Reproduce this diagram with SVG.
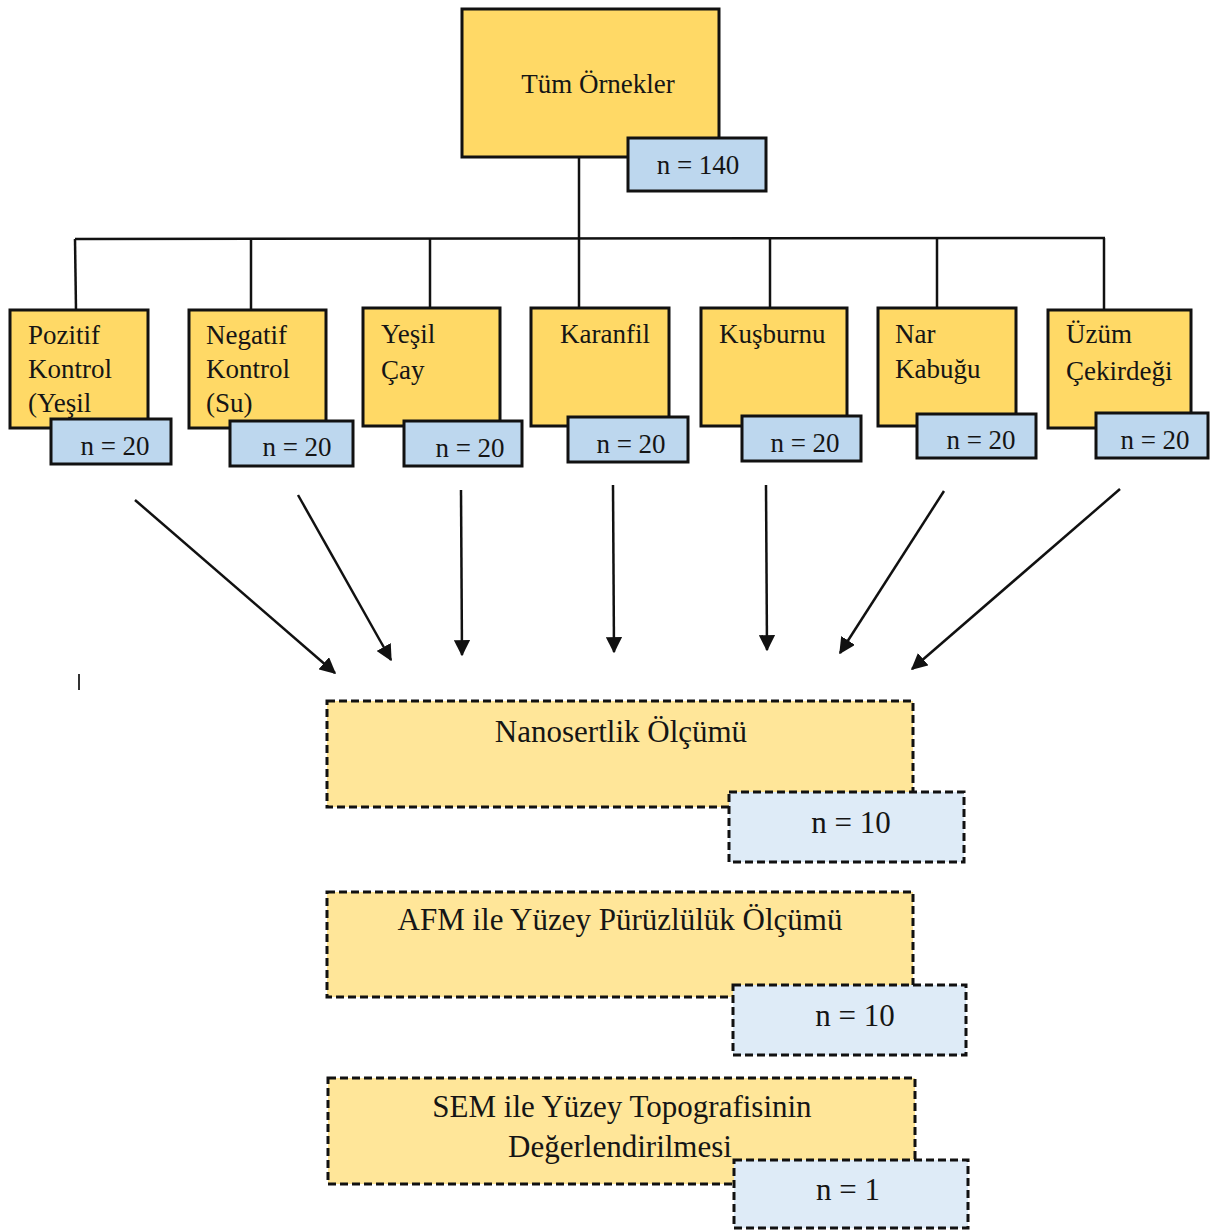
<svg xmlns="http://www.w3.org/2000/svg" width="1211" height="1230" viewBox="0 0 1211 1230">
  <style>
    text { font-family: "Liberation Serif", "DejaVu Serif", serif; fill: #151515; }
    .t26 { font-size: 27px; }
    .t30 { font-size: 31px; }
    .mid { text-anchor: middle; }
    .gold { fill: #FFD966; stroke: #111; stroke-width: 3; }
    .blue { fill: #BDD7EE; stroke: #111; stroke-width: 3; }
    .gold-d { fill: #FFE699; stroke: #111; stroke-width: 3; stroke-dasharray: 8 4; }
    .blue-d { fill: #DEEBF7; stroke: #111; stroke-width: 3; stroke-dasharray: 8 4; }
    .wire { fill: none; stroke: #111; stroke-width: 2.5; }
    .arrow { fill: none; stroke: #111; stroke-width: 2.5; marker-end: url(#head); }
  </style>
  <defs>
    <marker id="head" viewBox="0 0 12 12" refX="11" refY="6" markerWidth="6.5" markerHeight="6.5" orient="auto" markerUnits="strokeWidth">
      <path d="M0,0 L12,6 L0,12 Z" fill="#111"/>
    </marker>
  </defs>

  <rect width="1211" height="1230" fill="#fff"/>

  <!-- tree connectors and arrows -->
  <g id="connectors">
    <line class="wire" x1="579" y1="157" x2="579" y2="239"/>
    <line class="wire" x1="75" y1="239" x2="1105" y2="238"/>
    <line class="wire" x1="75" y1="239" x2="76" y2="310"/>
    <line class="wire" x1="251" y1="239" x2="251" y2="310"/>
    <line class="wire" x1="430" y1="239" x2="430" y2="308"/>
    <line class="wire" x1="579" y1="239" x2="579" y2="308"/>
    <line class="wire" x1="770" y1="238" x2="770" y2="308"/>
    <line class="wire" x1="937" y1="238" x2="937" y2="308"/>
    <line class="wire" x1="1104" y1="238" x2="1104" y2="310"/>

    <line class="arrow" x1="135" y1="500" x2="335" y2="673"/>
    <line class="arrow" x1="298" y1="495" x2="391" y2="660"/>
    <line class="arrow" x1="461" y1="490" x2="462" y2="655"/>
    <line class="arrow" x1="613" y1="485" x2="614" y2="652"/>
    <line class="arrow" x1="766" y1="485" x2="767" y2="650"/>
    <line class="arrow" x1="944" y1="491" x2="840" y2="653"/>
    <line class="arrow" x1="1120" y1="489" x2="912" y2="669"/>
  </g>

  <!-- text cursor mark -->
  <line x1="79" y1="674" x2="79" y2="690" stroke="#333" stroke-width="2"/>

  <g id="tum-ornekler">
    <rect class="gold" x="462" y="9" width="257" height="148"/>
    <text class="t26 mid" x="598" y="93">Tüm Örnekler</text>
    <rect class="blue" x="628" y="138" width="138" height="53"/>
    <text class="t26 mid" x="698" y="174">n = 140</text>
  </g>

  <g id="pozitif-kontrol">
    <rect class="gold" x="10" y="310" width="138" height="118"/>
    <text class="t26" x="28" y="344">Pozitif</text>
    <text class="t26" x="28" y="378">Kontrol</text>
    <text class="t26" x="28" y="412">(Yeşil</text>
    <rect class="blue" x="51" y="419" width="120" height="45"/>
    <text class="t26 mid" x="115" y="455">n = 20</text>
  </g>

  <g id="negatif-kontrol">
    <rect class="gold" x="189" y="310" width="137" height="118"/>
    <text class="t26" x="206" y="344">Negatif</text>
    <text class="t26" x="206" y="378">Kontrol</text>
    <text class="t26" x="206" y="412">(Su)</text>
    <rect class="blue" x="230" y="421" width="123" height="45"/>
    <text class="t26 mid" x="297" y="456">n = 20</text>
  </g>

  <g id="yesil-cay">
    <rect class="gold" x="363" y="308" width="137" height="118"/>
    <text class="t26" x="381" y="343">Yeşil</text>
    <text class="t26" x="381" y="379">Çay</text>
    <rect class="blue" x="404" y="421" width="118" height="45"/>
    <text class="t26 mid" x="470" y="457">n = 20</text>
  </g>

  <g id="karanfil">
    <rect class="gold" x="531" y="308" width="138" height="118"/>
    <text class="t26" x="560" y="343">Karanfil</text>
    <rect class="blue" x="568" y="417" width="120" height="45"/>
    <text class="t26 mid" x="631" y="453">n = 20</text>
  </g>

  <g id="kusburnu">
    <rect class="gold" x="701" y="308" width="146" height="118"/>
    <text class="t26" x="719" y="343">Kuşburnu</text>
    <rect class="blue" x="742" y="416" width="119" height="45"/>
    <text class="t26 mid" x="805" y="452">n = 20</text>
  </g>

  <g id="nar-kabugu">
    <rect class="gold" x="878" y="308" width="138" height="118"/>
    <text class="t26" x="895" y="343">Nar</text>
    <text class="t26" x="895" y="378">Kabuğu</text>
    <rect class="blue" x="917" y="414" width="119" height="44"/>
    <text class="t26 mid" x="981" y="449">n = 20</text>
  </g>

  <g id="uzum-cekirdegi">
    <rect class="gold" x="1048" y="310" width="143" height="118"/>
    <text class="t26" x="1066" y="343">Üzüm</text>
    <text class="t26" x="1066" y="380">Çekirdeği</text>
    <rect class="blue" x="1096" y="413" width="112" height="45"/>
    <text class="t26 mid" x="1155" y="449">n = 20</text>
  </g>

  <g id="nanosertlik">
    <rect class="gold-d" x="327" y="701" width="586" height="106"/>
    <text class="t30 mid" x="621" y="742">Nanosertlik Ölçümü</text>
    <rect class="blue-d" x="729" y="792" width="235" height="70"/>
    <text class="t30 mid" x="851" y="833">n = 10</text>
  </g>

  <g id="afm">
    <rect class="gold-d" x="327" y="892" width="586" height="105"/>
    <text class="t30 mid" x="620" y="930">AFM ile Yüzey Pürüzlülük Ölçümü</text>
    <rect class="blue-d" x="733" y="985" width="233" height="70"/>
    <text class="t30 mid" x="855" y="1026">n = 10</text>
  </g>

  <g id="sem">
    <rect class="gold-d" x="328" y="1078" width="587" height="106"/>
    <text class="t30 mid" x="622" y="1117">SEM ile Yüzey Topografisinin</text>
    <text class="t30 mid" x="620" y="1157">Değerlendirilmesi</text>
    <rect class="blue-d" x="734" y="1160" width="234" height="68"/>
    <text class="t30 mid" x="848" y="1200">n = 1</text>
  </g>
</svg>
